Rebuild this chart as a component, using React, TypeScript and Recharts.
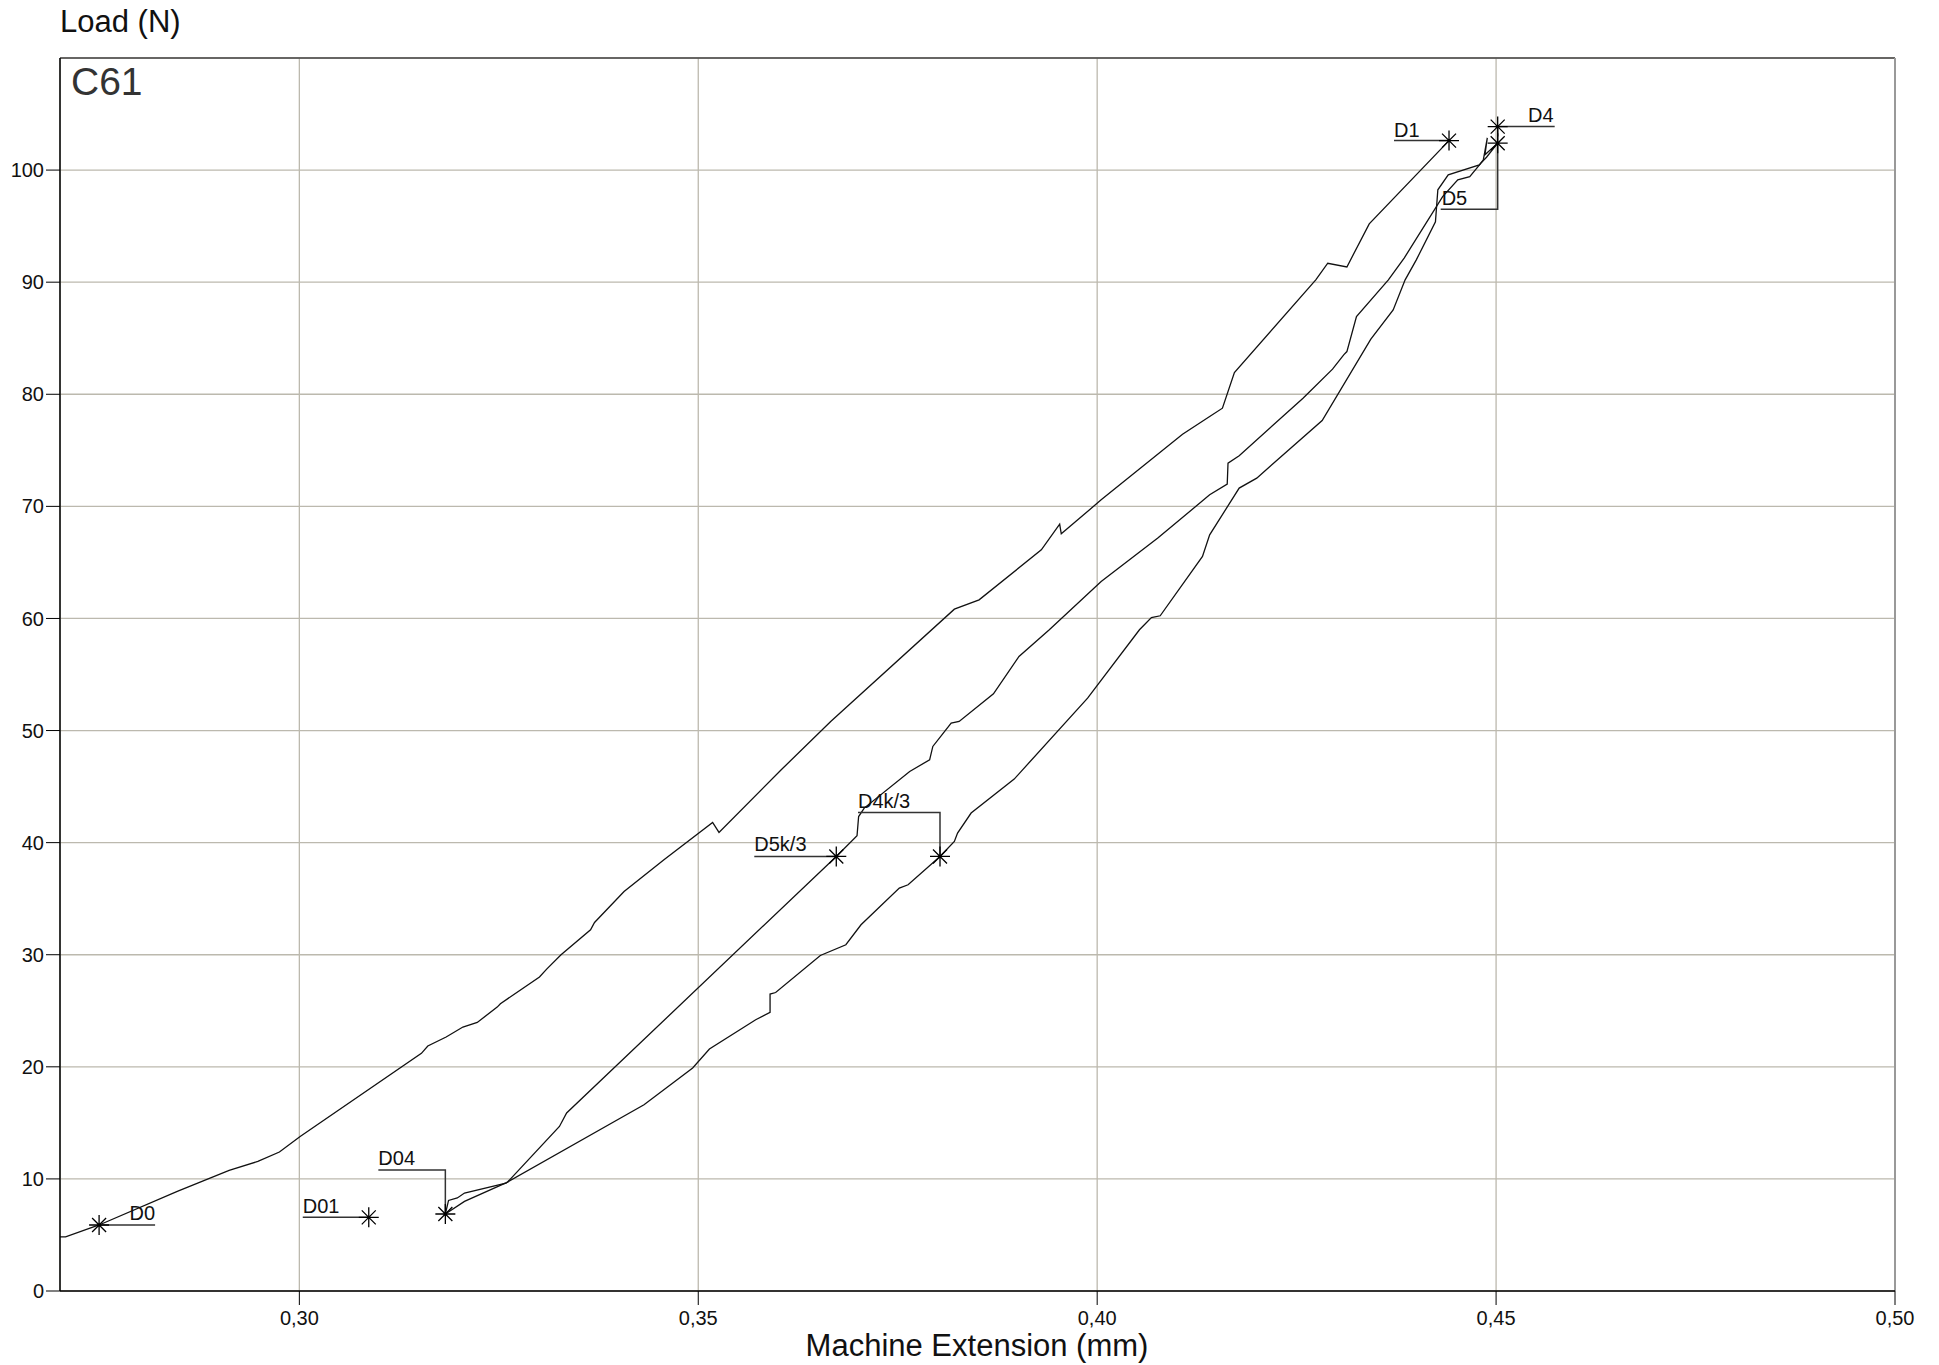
import { ComposedChart, Line, Scatter, XAxis, YAxis, CartesianGrid, ReferenceLine } from 'recharts'

const FONT = '"Liberation Sans", Arial, Helvetica, sans-serif'

const xTicks = [0.3, 0.35, 0.4, 0.45, 0.5]
const yTicks = [0, 10, 20, 30, 40, 50, 60, 70, 80, 90, 100]

// first loading curve, D0 -> D1
const extA = [0.27, 0.2707, 0.2749, 0.2847, 0.2912, 0.2948, 0.2975, 0.3001, 0.3153, 0.3161, 0.3184, 0.3205, 0.3223, 0.3248, 0.3252, 0.3301, 0.331, 0.3328, 0.3365, 0.337, 0.3407, 0.3457, 0.3518, 0.3526, 0.3604, 0.3666, 0.3821, 0.3852, 0.393, 0.3953, 0.3955, 0.4005, 0.4107, 0.4141, 0.4157, 0.4172, 0.4274, 0.4289, 0.4313, 0.4341, 0.4441]
const loadA = [4.82, 4.82, 5.89, 8.88, 10.76, 11.56, 12.4, 13.79, 21.2, 21.86, 22.66, 23.55, 23.96, 25.33, 25.63, 28.01, 28.72, 30.0, 32.23, 32.88, 35.64, 38.47, 41.8, 40.91, 46.5, 50.81, 60.83, 61.66, 66.12, 68.42, 67.55, 70.58, 76.44, 78.01, 78.76, 81.94, 90.21, 91.69, 91.36, 95.2, 102.63]

// D04 -> D5 (through D5k/3)
const extB = [0.3183, 0.3187, 0.3198, 0.3207, 0.3259, 0.3261, 0.3326, 0.3335, 0.3673, 0.3699, 0.3701, 0.3708, 0.3765, 0.379, 0.3794, 0.3817, 0.3827, 0.387, 0.3902, 0.394, 0.4005, 0.4076, 0.4141, 0.4163, 0.4164, 0.4178, 0.4258, 0.4295, 0.4309, 0.4313, 0.4325, 0.4365, 0.4385, 0.4433, 0.4452, 0.4467, 0.4481, 0.4488, 0.4502]
const loadB = [6.87, 8.08, 8.3, 8.74, 9.63, 9.72, 14.68, 15.88, 38.77, 40.61, 42.33, 43.08, 46.35, 47.39, 48.58, 50.66, 50.81, 53.28, 56.61, 58.99, 63.3, 67.17, 71.03, 71.98, 73.86, 74.51, 79.65, 82.24, 83.52, 83.81, 86.93, 90.21, 92.17, 97.64, 99.13, 99.42, 100.62, 101.15, 102.4]

// D04 -> D4 (through D4k/3)
const extC = [0.3183, 0.3207, 0.3261, 0.3432, 0.3493, 0.3514, 0.3572, 0.359, 0.359, 0.3597, 0.3653, 0.3685, 0.3704, 0.3752, 0.3763, 0.3803, 0.3821, 0.3825, 0.3842, 0.3896, 0.3988, 0.4053, 0.4068, 0.4079, 0.4132, 0.4141, 0.4178, 0.42, 0.4282, 0.4343, 0.4371, 0.4386, 0.44, 0.4424, 0.4427, 0.444, 0.4479, 0.4484, 0.4489, 0.4486, 0.4502, 0.4502]
const loadC = [6.87, 7.99, 9.72, 16.62, 19.89, 21.59, 24.2, 24.85, 26.49, 26.63, 29.93, 30.89, 32.67, 35.95, 36.24, 38.77, 40.1, 40.85, 42.64, 45.67, 52.89, 58.99, 60.08, 60.24, 65.53, 67.46, 71.63, 72.52, 77.66, 84.92, 87.53, 90.21, 91.99, 95.38, 98.24, 99.57, 100.47, 100.91, 102.87, 101.36, 102.4, 103.88]

const markerNames = ['D0', 'D01', 'D04', 'D5k/3', 'D4k/3', 'D1', 'D4', 'D5']
const markerExt = [0.2749, 0.3087, 0.3183, 0.3673, 0.3803, 0.4441, 0.4502, 0.4502]
const markerLoad = [5.89, 6.57, 6.87, 38.77, 38.77, 102.63, 103.88, 102.4]

// leader line (pixel offsets from the marker) and label placement
const leaders: Record<string, { path: number[][]; tx: number; ty: number; anchor: string }> = {
  D0: { path: [[0, 0], [56, 0]], tx: 56, ty: -5, anchor: 'end' },
  D01: { path: [[-66, 0], [0, 0]], tx: -66, ty: -4, anchor: 'start' },
  D04: { path: [[-67, -44], [0, -44], [0, 0]], tx: -67, ty: -49, anchor: 'start' },
  'D5k/3': { path: [[-82, 0], [0, 0]], tx: -82, ty: -5, anchor: 'start' },
  'D4k/3': { path: [[-82, -44], [0, -44], [0, 0]], tx: -82, ty: -48, anchor: 'start' },
  D1: { path: [[-55, 0], [0, 0]], tx: -55, ty: -4, anchor: 'start' },
  D4: { path: [[0, 0], [57, 0]], tx: 56, ty: -5, anchor: 'end' },
  D5: { path: [[0, 0], [0, 66], [-57, 66]], tx: -56, ty: 62, anchor: 'start' },
}

const toRows = (xs: number[], ys: number[]) => xs.map((x, i) => ({ x, y: ys[i] }))
const curveA = toRows(extA, loadA)
const curveB = toRows(extB, loadB)
const curveC = toRows(extC, loadC)
const markers = markerNames.map((name, i) => ({ name, x: markerExt[i], y: markerLoad[i] }))

const fmtX = (v: number) => v.toFixed(2).replace('.', ',')

function Marker(props: any) {
  const { cx, cy, payload } = props
  const lay = leaders[payload.name]
  const r = 10
  const d = 7
  return (
    <g>
      <polyline
        points={lay.path.map(([dx, dy]) => `${cx + dx},${cy + dy}`).join(' ')}
        fill="none" stroke="#333" strokeWidth={1.5}
      />
      <path
        d={`M${cx},${cy - r}V${cy + r}M${cx - r},${cy}H${cx + r}M${cx - d},${cy - d}L${cx + d},${cy + d}M${cx - d},${cy + d}L${cx + d},${cy - d}`}
        stroke="#000" strokeWidth={1.3}
      />
      <text x={cx + lay.tx} y={cy + lay.ty} textAnchor={lay.anchor} fontSize={20} fontFamily={FONT} fill="#111">
        {payload.name}
      </text>
    </g>
  )
}

export default function App() {
  return (
    <div style={{ position: 'absolute', left: 0, top: 0, width: 1939, height: 1365, background: '#fff' }}>
      <ComposedChart width={1939} height={1365} margin={{ top: 58, right: 44, bottom: 0, left: 0 }}>
        <CartesianGrid stroke="#bcb9ae" strokeWidth={1.3} />
        <XAxis
          dataKey="x" type="number" domain={[0.27, 0.5]} ticks={xTicks} allowDataOverflow
          tickFormatter={fmtX} height={74} tickSize={14} tickMargin={6}
          axisLine={{ stroke: '#000', strokeWidth: 1.5 }} tickLine={{ stroke: '#000' }}
          tick={{ fill: '#111', fontSize: 20, fontFamily: FONT }}
        />
        <YAxis
          type="number" domain={[0, 110]} ticks={yTicks} allowDataOverflow interval={0}
          width={60} tickSize={14} tickMargin={2}
          axisLine={{ stroke: '#000', strokeWidth: 1.5 }} tickLine={{ stroke: '#000' }}
          tick={{ fill: '#111', fontSize: 20, fontFamily: FONT }}
        />
        <ReferenceLine y={110} stroke="#444" strokeWidth={1.5} />
        <ReferenceLine x={0.5} stroke="#999" strokeWidth={2} />
        <Line data={curveA} dataKey="y" type="linear" stroke="#111" strokeWidth={1.3} dot={false} activeDot={false} isAnimationActive={false} />
        <Line data={curveB} dataKey="y" type="linear" stroke="#111" strokeWidth={1.3} dot={false} activeDot={false} isAnimationActive={false} />
        <Line data={curveC} dataKey="y" type="linear" stroke="#111" strokeWidth={1.3} dot={false} activeDot={false} isAnimationActive={false} />
        <Scatter data={markers} dataKey="y" shape={(p: any) => <Marker {...p} />} isAnimationActive={false} />
      </ComposedChart>
      <svg width={1939} height={1365} style={{ position: 'absolute', left: 0, top: 0, pointerEvents: 'none' }}>
        <text x={60} y={32} fontSize={31} fontFamily={FONT} fill="#111">Load (N)</text>
        <text x={71} y={95} fontSize={39} fontFamily={FONT} fill="#333">C61</text>
        <text x={977} y={1356} fontSize={31} fontFamily={FONT} fill="#111" textAnchor="middle">Machine Extension (mm)</text>
      </svg>
    </div>
  )
}
